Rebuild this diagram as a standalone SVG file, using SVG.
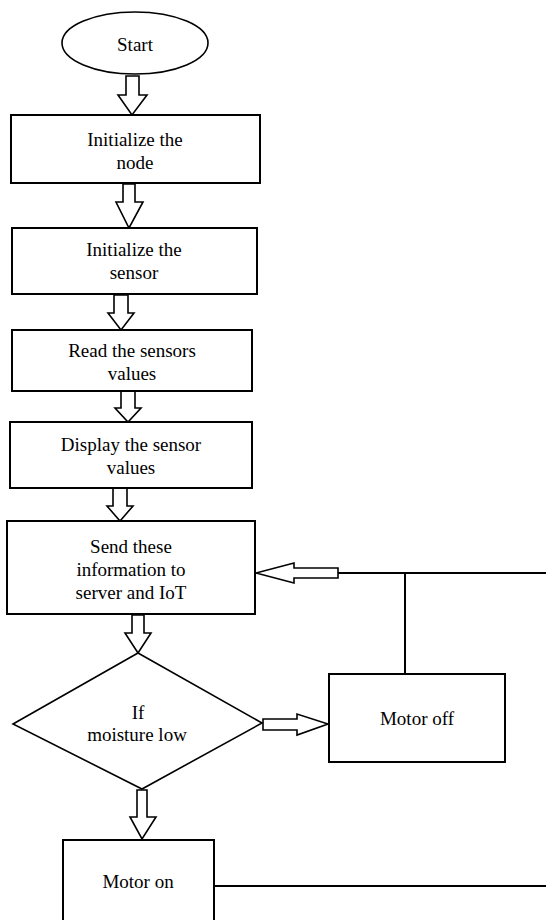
<svg xmlns="http://www.w3.org/2000/svg" width="546" height="920" viewBox="0 0 546 920">
<style>
.shape{fill:#fff;stroke:#000;stroke-width:2}
.thin{stroke-width:1.6}
.barrow{fill:#fff;stroke:#000;stroke-width:1.6;stroke-linejoin:miter}
.line{fill:none;stroke:#000;stroke-width:2}
text{font-family:"Liberation Serif","Times New Roman",serif;font-size:19px;fill:#000;text-anchor:middle}
</style>
<rect width="546" height="920" fill="#fff"/>
<g id="connectors">
<polygon class="barrow" points="126,76 139,76 139,95 147,95 132,115 118,95 126,95"/>
<polygon class="barrow" points="123,184 135,184 135,202 143,202 129,228 116,202 123,202"/>
<polygon class="barrow" points="114,295 128,295 128,313 134,313 121,330 108,313 114,313"/>
<polygon class="barrow" points="121,391 135,391 135,408 141,408 128,422 115,408 121,408"/>
<polygon class="barrow" points="113,488 127,488 127,506 133,506 120,521 107,506 113,506"/>
<polygon class="barrow" points="132,615 144,615 144,633 151,633 138,653 125,633 132,633"/>
<polygon class="barrow" points="137,790 147,790 147,817 156,817 142,839 130,817 137,817"/>
<polygon class="barrow" points="263,719 297,719 297,714 328,724 297,735 297,730 263,730"/>
<polygon class="barrow" points="338,568 294,568 294,563 256,573 294,583 294,578 338,578"/>
<line class="line" x1="338" y1="573" x2="546" y2="573"/>
<line class="line" x1="405" y1="573" x2="405" y2="674"/>
<line class="line" x1="214" y1="886" x2="546" y2="886"/>
</g>
<g id="start">
<ellipse class="shape thin" cx="135" cy="43" rx="73" ry="31"/>
<text x="135" y="51">Start</text>
</g>
<g id="init-node">
<rect class="shape" x="11" y="115" width="249" height="68"/>
<text x="135" y="146">Initialize the</text>
<text x="135" y="169">node</text>
</g>
<g id="init-sensor">
<rect class="shape" x="12" y="228" width="245" height="66"/>
<text x="134" y="256">Initialize the</text>
<text x="134" y="279">sensor</text>
</g>
<g id="read">
<rect class="shape" x="12" y="330" width="240" height="61"/>
<text x="132" y="357">Read the sensors</text>
<text x="132" y="380">values</text>
</g>
<g id="display">
<rect class="shape" x="10" y="422" width="242" height="66"/>
<text x="131" y="451">Display the sensor</text>
<text x="131" y="474">values</text>
</g>
<g id="send">
<rect class="shape" x="7" y="521" width="248" height="93"/>
<text x="131" y="553">Send these</text>
<text x="131" y="576">information to</text>
<text x="131" y="599">server and IoT</text>
</g>
<g id="decision">
<polygon class="shape thin" points="138,653 262,723 142,789 13,724"/>
<text x="138" y="719">If</text>
<text x="137" y="741">moisture low</text>
</g>
<g id="motor-off">
<rect class="shape" x="329" y="674" width="176" height="88"/>
<text x="417" y="725">Motor off</text>
</g>
<g id="motor-on">
<rect class="shape" x="63" y="840" width="151" height="90"/>
<text x="138" y="888">Motor on</text>
</g>
</svg>
